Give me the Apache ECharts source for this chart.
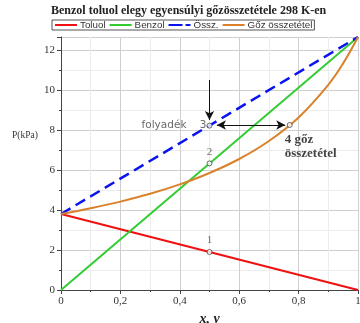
<!DOCTYPE html>
<html><head><meta charset="utf-8">
<script src="https://cdn.jsdelivr.net/npm/echarts@6/dist/echarts.min.js"></script>
<style>html,body{margin:0;padding:0;background:#fff}#c{width:360px;height:323px}</style>
</head><body><div id="c"></div>
<script>
const xFrac = [0, 1];
const toluol = [3.8, 0];
const benzol = [0, 12.65];
const ossz = [3.8, 12.65];
const gozY = [0, 0.1, 0.2, 0.3, 0.4, 0.5, 0.6, 0.7, 0.8, 0.9, 0.95, 1];
const gozP = [3.8, 4.09, 4.42, 4.81, 5.28, 5.85, 6.55, 7.45, 8.63, 10.26, 11.33, 12.65];
const pointNames = ['1', '2', '3', '4'];
const pointX = [0.5, 0.5, 0.5, 0.77];
const pointP = [1.9, 6.33, 8.22, 8.25];
const arrowDown = [[0.5, 10.5], [0.5, 8.5]];
const arrowSide = [[0.525, 8.25], [0.755, 8.25]];

const serif = '"Liberation Serif", "DejaVu Serif", serif';
const sans = '"DejaVu Sans", "Liberation Sans", sans-serif';
const fmt = v => String(+v.toFixed(2)).replace('.', ',');

const chart = echarts.init(document.getElementById('c'), null, {renderer: 'canvas'});
const pts = pointNames.map((n, i) => [pointX[i], pointP[i], n]);

chart.setOption({
  animation: false,
  title: {text: 'Benzol toluol elegy egyensúlyi gőzösszetétele 298 K-en', left: 46, top: 0, padding: [5, 5, 2, 5],
    textStyle: {fontFamily: serif, fontWeight: 'bold', fontSize: 12, color: '#222'}},
  legend: {top: 20, left: 52, itemGap: 4, itemWidth: 22, itemHeight: 2, padding: [0, 2, 0, 3],
    borderColor: '#555', borderWidth: 1, textStyle: {fontFamily: '"Liberation Sans", Arial, sans-serif', fontSize: 9.8, color: '#333', padding: [0, 0, 0, -2]},
    data: [
      {name: 'Toluol', icon: 'rect'},
      {name: 'Benzol', icon: 'rect'},
      {name: 'Össz.', icon: 'path://M0,0h14v2h-14z M17,0h5v2h-5z'},
      {name: 'Gőz összetétel', icon: 'rect'}
    ]},
  grid: {left: 61, right: 2, top: 37, bottom: 33, outerBoundsMode: 'none', containLabel: false},
  xAxis: {type: 'value', min: 0, max: 1, interval: 0.2,
    name: 'x, y', nameLocation: 'middle', nameGap: 19,
    nameTextStyle: {fontFamily: serif, fontWeight: 'bold', fontStyle: 'italic', fontSize: 14, color: '#222'},
    axisLine: {lineStyle: {color: '#444'}},
    axisTick: {length: 4, lineStyle: {color: '#444'}},
    minorTick: {show: true, splitNumber: 2, length: 2, lineStyle: {color: '#444'}},
    axisLabel: {formatter: fmt, fontFamily: serif, fontSize: 11, color: '#333', margin: 6},
    splitLine: {show: true, lineStyle: {color: '#cfcfcf'}},
    minorSplitLine: {show: true, lineStyle: {color: '#ececec'}}},
  yAxis: {type: 'value', min: 0, max: 12.65, interval: 2,
    axisLine: {show: true, lineStyle: {color: '#444'}},
    axisTick: {show: true, length: 4, lineStyle: {color: '#444'}},
    minorTick: {show: true, splitNumber: 2, length: 2, lineStyle: {color: '#444'}},
    axisLabel: {formatter: v => (Math.abs(v % 2) < 1e-6 ? fmt(v) : ''), showMaxLabel: false,
      fontFamily: serif, fontSize: 11, color: '#333', margin: 6},
    splitLine: {show: true, lineStyle: {color: '#cfcfcf'}},
    minorSplitLine: {show: true, lineStyle: {color: '#ececec'}}},
  graphic: [{type: 'text', left: 12, top: 130, style: {text: 'P(kPa)', font: '9.5px ' + serif, fill: '#333'}}],
  series: [
    {name: 'Toluol', type: 'line', symbol: 'none', color: '#f01010', lineStyle: {width: 2},
      data: xFrac.map((x, i) => [x, toluol[i]])},
    {name: 'Benzol', type: 'line', symbol: 'none', color: '#33cc33', lineStyle: {width: 2},
      data: xFrac.map((x, i) => [x, benzol[i]])},
    {name: 'Össz.', type: 'line', symbol: 'none', color: '#0a14f0', lineStyle: {width: 2.5, type: [11, 6]},
      data: xFrac.map((x, i) => [x, ossz[i]])},
    {name: 'Gőz összetétel', type: 'line', symbol: 'none', smooth: 0.4, color: '#d9822b', lineStyle: {width: 2},
      data: gozY.map((y, i) => [y, gozP[i]])},
    {name: 'pts', type: 'scatter', symbol: 'circle', symbolSize: 5, z: 5,
      itemStyle: {color: '#fff', borderColor: '#444', borderWidth: 1},
      data: pts.map((p, i) => {
        const base = {value: p};
        if (i === 2) base.label = {show: true, position: 'left', distance: 0,
          formatter: 'folyadék    3', fontFamily: sans, fontSize: 10.5, color: '#444'};
        else if (i === 3) base.label = {show: true, position: 'bottom', offset: [-5, 0],
          formatter: '4 gőz\nösszetétel', fontFamily: serif, fontWeight: 'bold', fontSize: 13, lineHeight: 14, color: '#111',
          align: 'left'};
        else base.label = {show: true, position: 'top', distance: 3, formatter: p[2], fontFamily: serif, fontSize: 11, color: '#444'};
        return base;
      }),
      markLine: {silent: true, symbolSize: [7, 9], label: {show: false},
        lineStyle: {color: '#111', width: 1, type: 'solid'},
        data: [
          [{coord: arrowDown[0], symbol: 'none'}, {coord: arrowDown[1], symbol: 'arrow'}],
          [{coord: arrowSide[0], symbol: 'arrow'}, {coord: arrowSide[1], symbol: 'arrow'}]
        ]}}
  ]
});
</script></body></html>
